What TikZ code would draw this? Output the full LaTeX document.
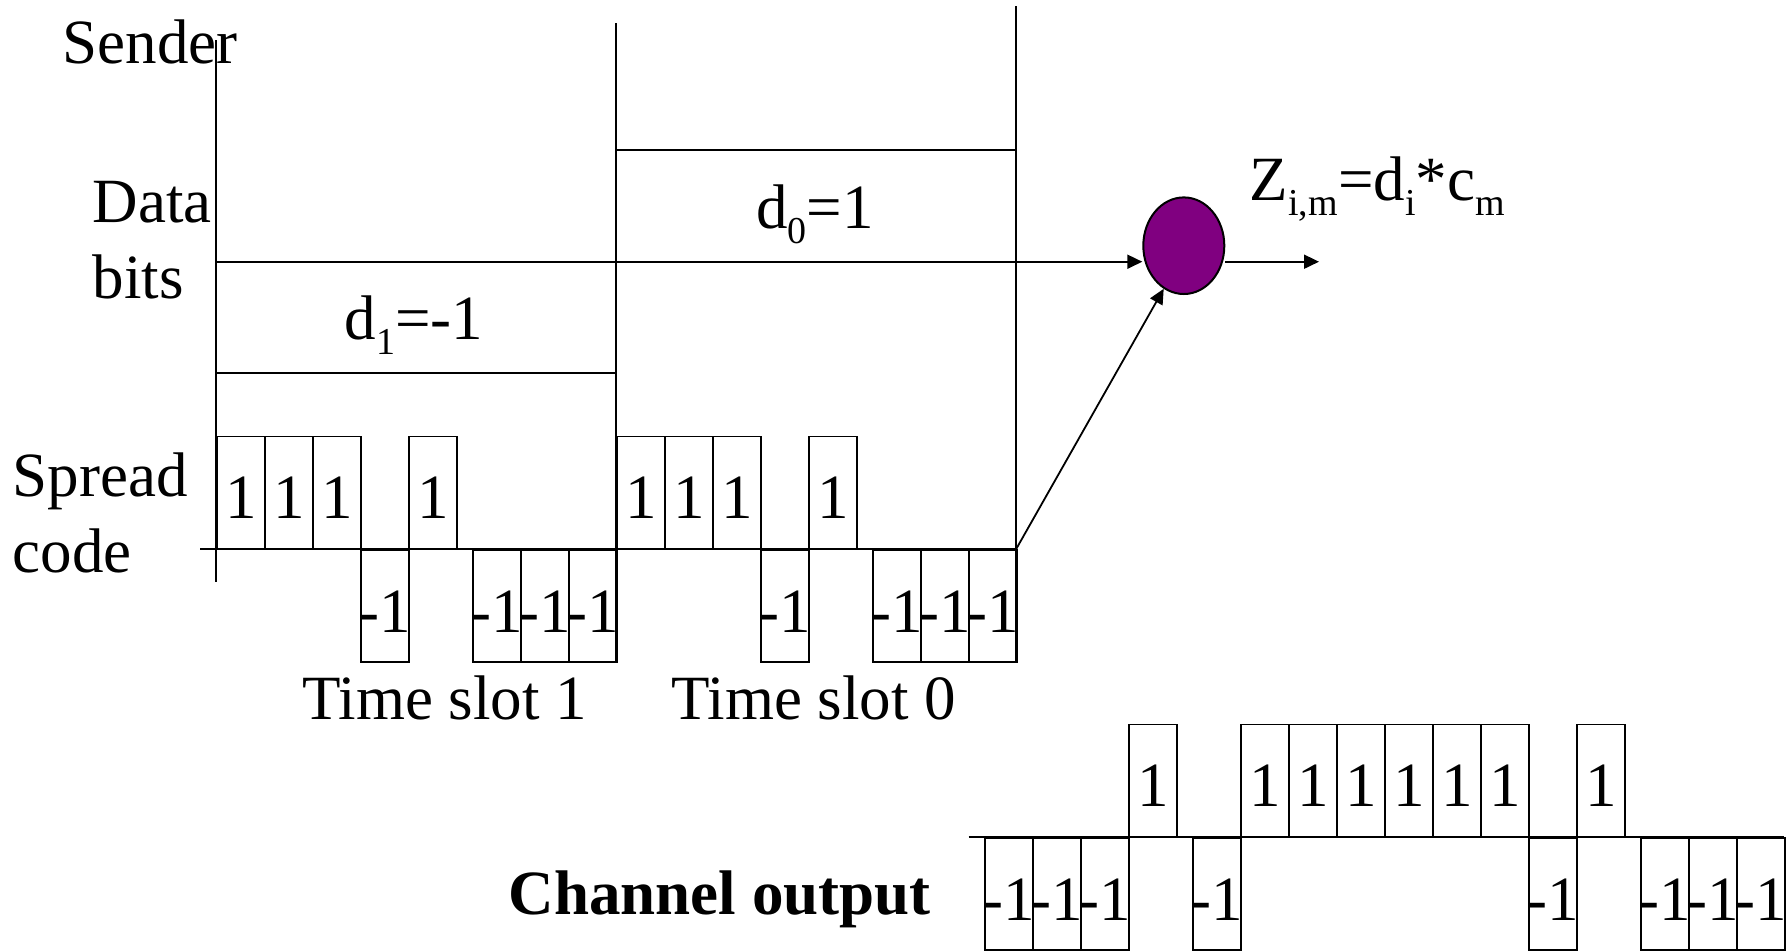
\documentclass[tikz,border=0pt]{standalone}
\usepackage{fontspec}
\setmainfont{Liberation Serif}
\usetikzlibrary{arrows.meta,shapes.geometric}
\newcommand\sbs[1]{\raisebox{-7.5pt}{\fontsize{19pt}{19pt}\selectfont #1}}
\definecolor{mypurple}{HTML}{800080}
\tikzset{
  txt/.style={inner sep=0pt, font=\fontsize{31.5pt}{37.75pt}\selectfont},
  lbl/.style={txt, yshift=-2.5pt},
  chipbox/.style={draw, minimum width=24pt, minimum height=56pt, inner sep=0pt},
  chipup/.style={chipbox, anchor=south west, label={[lbl]center:1}},
  chipdn/.style={chipbox, anchor=north west, label={[lbl]center:-1}},
  arr/.style={-{Triangle[length=7.5pt,width=7pt]}},
}
\begin{document}
\begin{tikzpicture}[x=0.5pt,y=-0.5pt,line width=0.9pt]
\useasboundingbox (0,0) rectangle (1791,950);
% labels
\node[txt,anchor=base west] (sender) at (62,63) {Sender};
\node[txt,anchor=base west,align=left] (databits) at (92,298) {Data\\bits};
\node[txt,anchor=base west,align=left] (spread) at (12,572) {Spread\\code};
% frame lines
\coordinate (v1t) at (216,40);  \coordinate (v1b) at (216,582);
\coordinate (v2t) at (616,23);  \coordinate (v2b) at (616,661);
\coordinate (v3t) at (1016,6);  \coordinate (v3b) at (1016,661);
\draw (v1t) -- (v1b);
\draw (v2t) -- (v2b);
\draw (v3t) -- (v3b);
\coordinate (d0l) at (616,150); \coordinate (d0r) at (1016,150);
\draw (d0l) -- (d0r);
\coordinate (d1l) at (216,373); \coordinate (d1r) at (616,373);
\draw (d1l) -- (d1r);
\node[txt,anchor=base] (d0) at (815,228) {d\sbs{0}=1};
\node[txt,anchor=base] (d1) at (414,339) {d\sbs{1}=-1};
% multiplier
\node[ellipse,draw,fill=mypurple,minimum width=40.5pt,minimum height=48.3pt,inner sep=0pt,line width=1pt] (mult) at (1183.8,245.7) {};
\coordinate (dl) at (216,261.7);
\coordinate (zout) at (1319,261.7);
\draw[arr] (dl) -- (dl -| mult.west);
\draw[arr] (dl -| mult.east) -- (zout);
\node[txt,anchor=base west] (zlabel) at (1249,200) {Z\sbs{i,m}=d\sbs{i}*c\sbs{m}};
% spread code
\coordinate (sa0) at (200,549.3); \coordinate (sa1) at (1016,549.3);
\draw (sa0) -- (sa1);
\foreach \x [count=\i] in {216,264,312,408,616,664,712,808}
  \node[chipup] (su\i) at (\x,549.3) {};
\foreach \x [count=\i] in {360,472,520,568,760,872,920,968}
  \node[chipdn] (sd\i) at (\x,549.3) {};
\draw[arr] (sa1) -- (mult.245);
\node[txt,anchor=base west] (ts1) at (301.5,719.5) {Time slot 1};
\node[txt,anchor=base west] (ts0) at (670.5,719.5) {Time slot 0};
% channel output
\coordinate (ca0) at (968.6,837.3); \coordinate (ca1) at (1784,837.3);
\draw (ca0) -- (ca1);
\foreach \x [count=\i] in {1128,1240,1288,1336,1384,1432,1480,1576}
  \node[chipup] (cu\i) at (\x,837.3) {};
\foreach \x [count=\i] in {984,1032,1080,1192,1528,1640,1688,1736}
  \node[chipdn] (cd\i) at (\x,837.3) {};
\node[txt,anchor=base west,font=\fontsize{31.5pt}{37.75pt}\selectfont\bfseries] (chout) at (508,914) {Channel output};
\end{tikzpicture}
\end{document}
